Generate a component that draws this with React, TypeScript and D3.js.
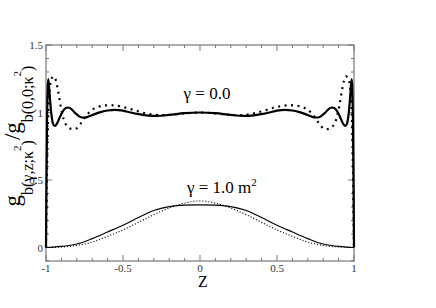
import React from "react";
import * as d3 from "d3";

// Half-profiles (z from -1 to 0); curves are mirrored about z = 0
const zSolid0 = [-1, -0.997, -0.993, -0.989, -0.985, -0.978, -0.968, -0.955, -0.943, -0.93, -0.91, -0.89, -0.872, -0.855, -0.835, -0.81, -0.785, -0.765, -0.747, -0.72, -0.68, -0.64, -0.6, -0.552, -0.5, -0.45, -0.4, -0.35, -0.28, -0.2, -0.1, 0];
const gSolid0 = [0.0, 0.45, 0.95, 1.18, 1.247, 1.16, 1.02, 0.92, 0.9, 0.915, 0.965, 1.01, 1.033, 1.037, 1.025, 0.995, 0.972, 0.963, 0.963, 0.972, 0.99, 1.005, 1.015, 1.02, 1.014, 1.0, 0.988, 0.979, 0.975, 0.982, 0.995, 1.0];

const zDot0 = [-1, -0.993, -0.985, -0.975, -0.962, -0.948, -0.935, -0.92, -0.905, -0.885, -0.86, -0.84, -0.818, -0.795, -0.77, -0.74, -0.7, -0.66, -0.62, -0.584, -0.54, -0.48, -0.42, -0.36, -0.3, -0.26, -0.2, -0.1, 0];
const gDot0 = [0.0, 0.6, 1.0, 1.18, 1.255, 1.267, 1.235, 1.15, 1.05, 0.95, 0.895, 0.88, 0.876, 0.888, 0.925, 0.975, 1.02, 1.042, 1.052, 1.054, 1.05, 1.035, 1.015, 0.996, 0.984, 0.98, 0.982, 0.993, 1.0];

const zSolid1 = [-1, -0.95, -0.9, -0.85, -0.8, -0.75, -0.7, -0.6, -0.5, -0.4, -0.3, -0.2, -0.1, 0];
const gSolid1 = [0.0, 0.003, 0.008, 0.015, 0.026, 0.043, 0.066, 0.115, 0.165, 0.222, 0.274, 0.303, 0.314, 0.316];

const zDot1 = [-1, -0.9, -0.8, -0.7, -0.6, -0.5, -0.4, -0.3, -0.2, -0.1, 0];
const gDot1 = [0.0, 0.004, 0.015, 0.04, 0.083, 0.13, 0.186, 0.243, 0.292, 0.328, 0.345];

const xTicksMajor = [-1, -0.5, 0, 0.5, 1];
const xTickLabels = ["-1", "-0.5", "0", "0.5", "1"];
const yTicksMajor = [0, 0.5, 1, 1.5];
const yTickLabels = ["0", "0.5", "1", "1.5"];

function mirror(z: number[], g: number[]): [number, number][] {
  const left = z.map((v, i) => [v, g[i]] as [number, number]);
  const right = z
    .slice(0, -1)
    .map((v, i) => [-v, g[i]] as [number, number])
    .reverse();
  return [...left, ...right];
}

const SERIF = "Liberation Serif";

export default function App() {
  const W = 436, H = 308;
  const L = 46, R = 354, T = 45, B = 261;
  const x = d3.scaleLinear().domain([-1, 1]).range([L, R]);
  const y = d3.scaleLinear().domain([-0.1, 1.5]).range([B, T]);
  const line = d3
    .line<[number, number]>()
    .x((d) => x(d[0]))
    .y((d) => y(d[1]))
    .curve(d3.curveMonotoneX);

  const xMinor = d3.range(-1, 1.0001, 0.1).map((v) => +v.toFixed(2));
  const yMinor = d3.range(-0.1, 1.5001, 0.1).map((v) => +v.toFixed(2));
  const isMajor = (v: number, arr: number[]) => arr.some((a) => Math.abs(a - v) < 1e-6);
  const axisColor = "#777";

  return (
    <svg width={W} height={H} style={{ position: "absolute", left: 0, top: 0, background: "#fff" }}>
      <rect x={L} y={T} width={R - L} height={B - T} fill="none" stroke={axisColor} strokeWidth={1.2} />
      {xMinor.map((v) => {
        const len = isMajor(v, xTicksMajor) ? 6 : 3;
        return (
          <g key={"xt" + v}>
            <line x1={x(v)} x2={x(v)} y1={B} y2={B - len} stroke={axisColor} />
            <line x1={x(v)} x2={x(v)} y1={T} y2={T + len} stroke={axisColor} />
          </g>
        );
      })}
      {yMinor.map((v) => {
        const len = isMajor(v, yTicksMajor) ? 6 : 3;
        return (
          <g key={"yt" + v}>
            <line x1={L} x2={L + len} y1={y(v)} y2={y(v)} stroke={axisColor} />
            <line x1={R} x2={R - len} y1={y(v)} y2={y(v)} stroke={axisColor} />
          </g>
        );
      })}
      {xTicksMajor.map((v, i) => (
        <text key={"xl" + v} x={x(v)} y={B + 11} fontSize={11} textAnchor="middle" fill="#333" fontFamily={SERIF}>
          {xTickLabels[i]}
        </text>
      ))}
      {yTicksMajor.map((v, i) => (
        <text key={"yl" + v} x={L - 3} y={y(v) + 4} fontSize={11} textAnchor="end" fill="#333" fontFamily={SERIF}>
          {yTickLabels[i]}
        </text>
      ))}

      <path d={line(mirror(zSolid0, gSolid0)) || ""} fill="none" stroke="#000" strokeWidth={2.2} />
      <path d={line(mirror(zDot0, gDot0)) || ""} fill="none" stroke="#000" strokeWidth={2.2} strokeDasharray="2,4.5" />
      <path d={line(mirror(zSolid1, gSolid1)) || ""} fill="none" stroke="#000" strokeWidth={1.2} />
      <path d={line(mirror(zDot1, gDot1)) || ""} fill="none" stroke="#000" strokeWidth={1.2} strokeDasharray="1,2" />

      <text x={207} y={99} fontSize={17} textAnchor="middle" fill="#000" fontFamily={SERIF}>γ = 0.0</text>
      <text x={187} y={193} fontSize={17} fill="#000" fontFamily={SERIF}>
        γ = 1.0 m<tspan dy={-7} fontSize={11}>2</tspan>
      </text>

      <text x={203} y={287} fontSize={16} textAnchor="middle" fill="#000" fontFamily={SERIF}>Z</text>

      <text transform="translate(20,136) rotate(-90)" textAnchor="middle" fill="#000" fontSize={23} fontFamily={SERIF}>
        g<tspan dy={13} fontSize={16}>b(γ,z;κ</tspan>
        <tspan dy={-12} fontSize={11}>2</tspan>
        <tspan dy={12} fontSize={16}>)</tspan>
        <tspan dy={-13} fontSize={23}>/g</tspan>
        <tspan dy={13} fontSize={16}>b(0,0;κ</tspan>
        <tspan dy={-12} fontSize={11}>2</tspan>
        <tspan dy={12} fontSize={16}>)</tspan>
      </text>
    </svg>
  );
}
